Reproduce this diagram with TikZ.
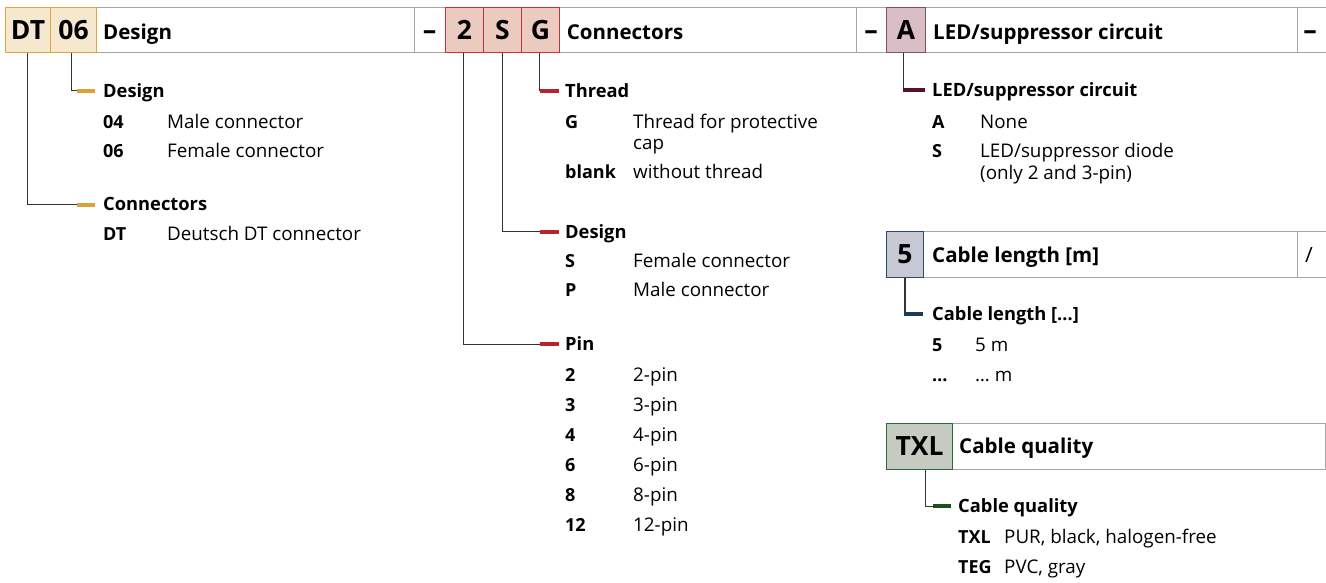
\documentclass[tikz,border=0pt]{standalone}
\usepackage{fontspec}
\setmainfont{Open Sans}
\definecolor{hdrgray}{HTML}{A6A6A6}
\definecolor{treegray}{HTML}{333333}
\definecolor{ofill}{HTML}{F6E7CF}
\definecolor{oline}{HTML}{E0A43C}
\definecolor{obar}{HTML}{DCA238}
\definecolor{rfill}{HTML}{EBCAC0}
\definecolor{rline}{HTML}{C8303A}
\definecolor{rbar}{HTML}{B8242C}
\definecolor{mfill}{HTML}{D9BEC6}
\definecolor{mline}{HTML}{8A4A60}
\definecolor{mbar}{HTML}{5A1028}
\definecolor{bfill}{HTML}{C6C9D4}
\definecolor{bline}{HTML}{2A4A6A}
\definecolor{bbar}{HTML}{1C3A5A}
\definecolor{gfill}{HTML}{C5CBC0}
\definecolor{gline}{HTML}{2D6A3A}
\definecolor{gbar}{HTML}{1D4E1D}
\tikzset{
 hbox/.style={draw=hdrgray, line width=1pt, minimum height=45pt, inner sep=0pt, anchor=north west},
 codebox/.style={line width=1pt, minimum height=45pt, inner sep=0pt, anchor=north west, font=\fontsize{26.5}{28}\selectfont\bfseries},
 htitle/.style={anchor=base west, inner sep=0pt, font=\fontsize{20.5}{24}\selectfont\bfseries},
 sep/.style={anchor=base, inner sep=0pt, font=\fontsize{27}{28}\selectfont\bfseries},
 slashtxt/.style={anchor=base, inner sep=0pt, font=\fontsize{21}{24}\selectfont},
 ititle/.style={anchor=base west, inner sep=0pt, font=\fontsize{18.3}{22}\selectfont\bfseries},
 keytxt/.style={anchor=base west, inner sep=0pt, font=\fontsize{18}{22}\selectfont\bfseries},
 valtxt/.style={anchor=base west, inner sep=0pt, font=\fontsize{18.8}{22}\selectfont},
 tree/.style={draw=treegray, line width=1.2pt},
 bar/.style={line width=4pt},
}
\newcommand\branch[5]{%
 \draw[tree] (#1) |- ([shift={(#3,-6.5)}]#2.base west);
 \draw[bar, draw=#5] ([shift={(#3,-6.5)}]#2.base west) -- ([shift={(#4,-6.5)}]#2.base west);
}
\begin{document}
\begin{tikzpicture}[x=1pt,y=-1pt]
\useasboundingbox[fill=white] (0,0) rectangle (1326,583);
% header row 1 frames
\node[hbox, minimum width=318pt] (fDesign) at (96,7) {};
\node[hbox, minimum width=31pt] (fDash1) at (414,7) {};
\node[hbox, minimum width=297pt] (fConn) at (559,7) {};
\node[hbox, minimum width=30pt] (fDash2) at (856,7) {};
\node[hbox, minimum width=372pt] (fLED) at (925,7) {};
\node[hbox, minimum width=40pt] (fDash3) at (1297,7) {};
% code boxes row 1
\node[codebox, fill=ofill, draw=oline, minimum width=45pt] (cDT) at (5,7) {DT};
\node[codebox, fill=ofill, draw=oline, minimum width=46pt] (c06) at (50,7) {06};
\node[codebox, fill=rfill, draw=rline, minimum width=38pt] (c2) at (445,7) {2};
\node[codebox, fill=rfill, draw=rline, minimum width=38pt] (cS) at (483,7) {S};
\node[codebox, fill=rfill, draw=rline, minimum width=38pt] (cG) at (521,7) {G};
\node[codebox, fill=mfill, draw=mline, minimum width=39pt] (cA) at (886,7) {A};
% header texts
\node[htitle] (hDesign) at (103,39.3) {Design};
\node[sep] (sDash1) at (429.5,40) {–};
\node[htitle] (hConn) at (566.7,39.3) {Connectors};
\node[sep] (sDash2) at (871,40) {–};
\node[htitle] (hLED) at (933,39.3) {LED/suppressor circuit};
\node[sep] (sDash3) at (1310,40) {–};
% row 5
\node[hbox, minimum width=374pt, minimum height=46pt] (fCable) at (923,231) {};
\node[hbox, minimum width=40pt, minimum height=46pt] (fSlash) at (1297,231) {};
\node[codebox, fill=bfill, draw=bline, minimum width=37pt, minimum height=46pt] (c5) at (886,231) {5};
\node[htitle] (hCable) at (932,262.7) {Cable length [m]};
\node[slashtxt] (sSlash) at (1309,262.7) {/};
% row TXL
\node[hbox, minimum width=373pt, minimum height=46pt] (fQual) at (952,423) {};
\node[codebox, fill=gfill, draw=gline, minimum width=66pt, minimum height=46pt] (cTXL) at (886,423) {TXL};
\node[htitle] (hQual) at (959,453.3) {Cable quality};
% left column
\node[ititle] (tiDesign) at (103,97.3) {Design};
\node[keytxt] (k04) at (103,128.3) {04};
\node[valtxt] (v04) at (167,128.3) {Male connector};
\node[keytxt] (k06) at (103,157.3) {06};
\node[valtxt] (v06) at (167,157.3) {Female connector};
\node[ititle] (tiConn) at (103,211) {Connectors};
\node[keytxt] (kDT) at (103,240.7) {DT};
\node[valtxt] (vDT) at (167,240.7) {Deutsch DT connector};
\branch{[xshift=-2pt]c06.south}{tiDesign}{-26}{-8}{obar}
\branch{[xshift=-0.5pt]cDT.south}{tiConn}{-26}{-8}{obar}
% middle column
\node[ititle] (tiThread) at (565,97.3) {Thread};
\node[keytxt] (kG) at (565,128.3) {G};
\node[valtxt] (vG) at (633,128.3) {Thread for protective};
\node[valtxt] (vG2) at (633,150) {cap};
\node[keytxt] (kBlank) at (565,178.3) {blank};
\node[valtxt] (vBlank) at (633,178.3) {without thread};
\node[ititle] (tiDesign2) at (565,238.3) {Design};
\node[keytxt] (kS) at (565,267.3) {S};
\node[valtxt] (vS) at (633,267.3) {Female connector};
\node[keytxt] (kP) at (565,296.7) {P};
\node[valtxt] (vP) at (633,296.7) {Male connector};
\node[ititle] (tiPin) at (565,350.7) {Pin};
\node[keytxt] (kp2) at (565,381.7) {2};
\node[valtxt] (vp2) at (633,381.7) {2-pin};
\node[keytxt] (kp3) at (565,411.7) {3};
\node[valtxt] (vp3) at (633,411.7) {3-pin};
\node[keytxt] (kp4) at (565,441.7) {4};
\node[valtxt] (vp4) at (633,441.7) {4-pin};
\node[keytxt] (kp6) at (565,471.7) {6};
\node[valtxt] (vp6) at (633,471.7) {6-pin};
\node[keytxt] (kp8) at (565,501.7) {8};
\node[valtxt] (vp8) at (633,501.7) {8-pin};
\node[keytxt] (kp12) at (565,531.7) {12};
\node[valtxt] (vp12) at (633,531.7) {12-pin};
\branch{[xshift=-1pt]cG.south}{tiThread}{-25}{-6}{rbar}
\branch{cS.south}{tiDesign2}{-25}{-6}{rbar}
\branch{[xshift=-1pt]c2.south}{tiPin}{-25}{-6}{rbar}
% right column
\node[ititle] (tiLED) at (932,96.7) {LED/suppressor circuit};
\node[keytxt] (kA) at (932,128.3) {A};
\node[valtxt] (vA) at (980,128.3) {None};
\node[keytxt] (kS2) at (932,157.3) {S};
\node[valtxt] (vS2) at (980,157.3) {LED/suppressor diode};
\node[valtxt] (vS2b) at (980,180) {(only 2 and 3-pin)};
\branch{[xshift=-2.5pt]cA.south}{tiLED}{-29}{-7}{mbar}
\node[ititle] (tiCable) at (932,320) {Cable length […]};
\node[keytxt] (k5) at (932,351.7) {5};
\node[valtxt] (v5) at (975,351.7) {5 m};
\node[keytxt] (kDots) at (932,381.7) {…};
\node[valtxt] (vDots) at (975,381.7) {… m};
\branch{c5.south}{tiCable}{-28}{-9}{bbar}
\node[ititle] (tiQual) at (958,512.7) {Cable quality};
\node[keytxt] (kTXL) at (958,543.3) {TXL};
\node[valtxt] (vTXL) at (1004,543.3) {PUR, black, halogen-free};
\node[keytxt] (kTEG) at (958,573.3) {TEG};
\node[valtxt] (vTEG) at (1004,573.3) {PVC, gray};
\branch{[xshift=6pt]cTXL.south}{tiQual}{-25}{-7}{gbar}
\end{tikzpicture}
\end{document}
